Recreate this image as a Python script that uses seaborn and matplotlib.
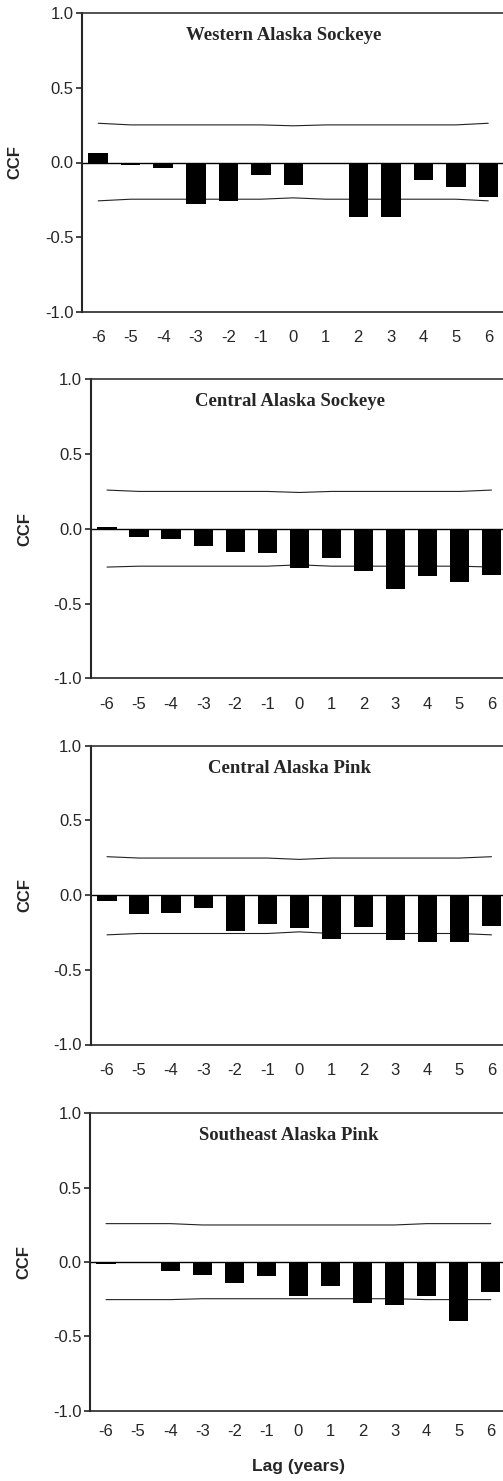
import numpy as np
import pandas as pd
import matplotlib
matplotlib.use('Agg')
import matplotlib.pyplot as plt
import seaborn as sns

lags = [-6, -5, -4, -3, -2, -1, 0, 1, 2, 3, 4, 5, 6]

titles = ['Western Alaska Sockeye', 'Central Alaska Sockeye',
          'Central Alaska Pink', 'Southeast Alaska Pink']

ccf_west_sockeye = [0.065, -0.015, -0.04, -0.28, -0.255, -0.087, -0.154,
                    -0.008, -0.368, -0.362, -0.12, -0.167, -0.228]
ccf_central_sockeye = [0.013, -0.058, -0.065, -0.118, -0.158, -0.165, -0.265,
                       -0.192, -0.285, -0.406, -0.319, -0.359, -0.312]
ccf_central_pink = [-0.04, -0.127, -0.12, -0.087, -0.241, -0.194, -0.221,
                    -0.295, -0.214, -0.301, -0.315, -0.315, -0.208]
ccf_southeast_pink = [-0.011, 0.0, -0.061, -0.087, -0.141, -0.094, -0.229,
                      -0.161, -0.276, -0.289, -0.229, -0.397, -0.202]

# approximate confidence bounds (upper / lower)
upper_west = [0.263, 0.252, 0.252, 0.252, 0.252, 0.252, 0.246,
              0.252, 0.252, 0.252, 0.252, 0.252, 0.263]
lower_west = [-0.257, -0.246, -0.246, -0.246, -0.246, -0.246, -0.237,
              -0.246, -0.246, -0.246, -0.246, -0.246, -0.257]
upper_cs = [0.259, 0.25, 0.25, 0.25, 0.25, 0.25, 0.243,
            0.25, 0.25, 0.25, 0.25, 0.25, 0.259]
lower_cs = [-0.256, -0.25, -0.25, -0.25, -0.25, -0.25, -0.241,
            -0.25, -0.25, -0.25, -0.25, -0.25, -0.256]
upper_cp = [0.257, 0.248, 0.248, 0.248, 0.248, 0.248, 0.239,
            0.248, 0.248, 0.248, 0.248, 0.248, 0.257]
lower_cp = [-0.266, -0.257, -0.257, -0.257, -0.257, -0.257, -0.246,
            -0.257, -0.257, -0.257, -0.257, -0.257, -0.266]
upper_se = [0.258, 0.258, 0.258, 0.249, 0.249, 0.249, 0.249,
            0.249, 0.249, 0.249, 0.258, 0.258, 0.258]
lower_se = [-0.253, -0.253, -0.253, -0.247, -0.247, -0.247, -0.247,
            -0.247, -0.247, -0.247, -0.253, -0.253, -0.253]

series = [ccf_west_sockeye, ccf_central_sockeye, ccf_central_pink, ccf_southeast_pink]
uppers = [upper_west, upper_cs, upper_cp, upper_se]
lowers = [lower_west, lower_cs, lower_cp, lower_se]

sns.set_style('ticks')
plt.rcParams['font.family'] = ['Liberation Sans', 'DejaVu Sans']

W, H = 503, 1481
fig = plt.figure(figsize=(W / 100, H / 100), dpi=100)

# left, top, right, bottom in pixels
boxes = [(82, 13.3, 504.5, 311.7),
         (91, 379.3, 507.5, 678.3),
         (91, 745.7, 507.5, 1044.5),
         (90, 1113.3, 506.8, 1410.7)]
xpads = [13.5, 13.5, 13.5, 9.5]

for i in range(4):
    l, t, r, b = boxes[i]
    ax = fig.add_axes([l / W, 1 - b / H, (r - l) / W, (b - t) / H])
    df = pd.DataFrame({'lag': lags, 'ccf': series[i],
                       'upper': uppers[i], 'lower': lowers[i]})

    ax.axhline(0, color='black', lw=1.0, zorder=1)
    sns.barplot(data=df, x='lag', y='ccf', native_scale=True, width=0.6,
                color='black', saturation=1, errorbar=None, linewidth=0,
                edgecolor='black', ax=ax, zorder=4)
    sns.lineplot(data=df, x='lag', y='upper', color='#222222', lw=0.8, ax=ax)
    sns.lineplot(data=df, x='lag', y='lower', color='#222222', lw=0.8, ax=ax)

    ax.set_xlim(-6.5, 6.5)
    ax.set_ylim(-1, 1)
    ax.set_yticks([-1, -0.5, 0, 0.5, 1])
    ax.set_yticklabels(['-1.0', '-0.5', '0.0', '0.5', '1.0'])
    ax.set_xticks(lags)
    ax.set_xticklabels([str(v) for v in lags])
    ax.tick_params(axis='y', length=4.3, width=1.2, pad=2, labelsize=12)
    ax.tick_params(axis='x', length=0, pad=xpads[i], labelsize=12)

    ax.spines['right'].set_visible(False)
    ax.spines['left'].set_linewidth(1.5)
    ax.spines['bottom'].set_linewidth(1.2)
    ax.spines['top'].set_linewidth(1.2)
    ax.spines['top'].set_color('#333333')

    ax.set_ylabel('CCF', fontsize=12, fontweight='bold')
    ax.yaxis.set_label_coords(-0.14, 0.5)
    if i == 3:
        ax.set_xlabel('Lag (years)', fontsize=12.5, fontweight='bold')
        ax.xaxis.set_label_coords(0.5, -0.162)
    else:
        ax.set_xlabel('')

    ax.text(-0.3, 0.925, titles[i], transform=ax.get_xaxis_transform(),
            ha='center', va='center', fontsize=13.5, fontweight='bold',
            family=['Liberation Serif', 'DejaVu Serif'])

fig.savefig('out.png', dpi=100)
